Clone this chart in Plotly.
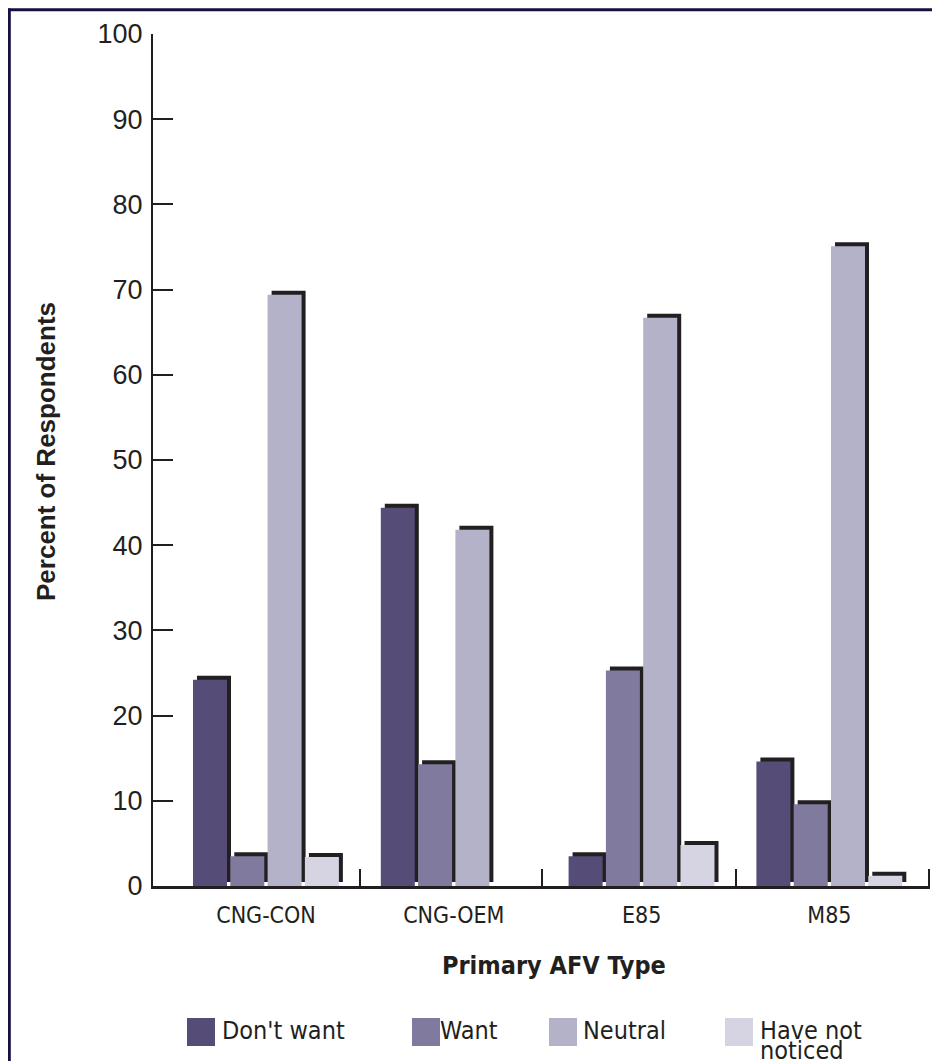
import plotly.graph_objects as go

# ---------------- data ----------------
categories = ["CNG-CON", "CNG-OEM", "E85", "M85"]
series_names = ["Don't want", "Want", "Neutral", "Have not noticed"]
dont_want = [24.2, 44.4, 3.5, 14.6]
want = [3.5, 14.3, 25.3, 9.6]
neutral = [69.4, 41.8, 66.7, 75.1]
have_not_noticed = [3.4, 0.0, 4.8, 1.2]
y_ticks = [0, 10, 20, 30, 40, 50, 60, 70, 80, 90, 100]

series_values = [dont_want, want, neutral, have_not_noticed]
colors = ["#554c77", "#807a9e", "#b3b2c9", "#d6d4e3"]
shadow_color = "#231f20"
legend_first_lines = ["Don't want", "Want", "Neutral", "Have not"]

# ---------------- geometry ----------------
OFF = 8                        # page body margin of the html page
W, H = 940 - OFF, 1061 - OFF
L, R, T, B = 153 - OFF, 10, 34 - OFF, 175
plot_w = W - L - R
plot_h = H - T - B
cat_px = 187.8                 # pixels per category
x_min = -113.0 / cat_px
x_max = x_min + plot_w / cat_px
y_px = plot_h / 100.0

bar_w = 34.0 / cat_px
pitch = 37.3 / cat_px
first_left = -73.0 / cat_px
shadow_dx = 4.0 / cat_px
shadow_dy = 4.0 / y_px

x_pos = list(range(len(categories)))


def px2x(px):      # screen px (reference coords) -> paper x
    return (px - OFF - L) / plot_w


def py2y(py):      # screen px (reference coords) -> paper y
    return (H - B - (py - OFF)) / plot_h


NARROW = "Liberation Sans Narrow, DejaVu Sans Condensed, Arial Narrow, sans-serif"
REG = "Liberation Sans, Arial, Helvetica, sans-serif"
TXT = "#231f20"

fig = go.Figure()

# shadows first
for i, vals in enumerate(series_values):
    fig.add_trace(go.Bar(
        x=x_pos, y=vals, base=shadow_dy, width=bar_w,
        offset=first_left + i * pitch + shadow_dx,
        marker=dict(color=shadow_color, line=dict(width=0)),
        showlegend=False, hoverinfo="skip"))

for i, vals in enumerate(series_values):
    fig.add_trace(go.Bar(
        x=x_pos, y=vals, width=bar_w, name=series_names[i],
        offset=first_left + i * pitch,
        marker=dict(color=colors[i], line=dict(width=0)),
        showlegend=False))

shapes = []
annotations = []

# outer frame (top and left edges visible)
frame = dict(color="#1a1040", width=3)
shapes.append(dict(type="line", xref="paper", yref="paper",
                   x0=px2x(8), x1=px2x(990), y0=py2y(9.8), y1=py2y(9.8),
                   line=frame, layer="above"))
shapes.append(dict(type="line", xref="paper", yref="paper",
                   x0=px2x(9.3), x1=px2x(9.3), y0=py2y(8.5), y1=py2y(1100),
                   line=frame, layer="above"))

# manual legend
sq_left = [187, 412, 549, 725]
txt_left = [220, 438, 581, 758]
sq_top, sq_size = 1018, 28
for i in range(4):
    shapes.append(dict(type="rect", xref="paper", yref="paper",
                       x0=px2x(sq_left[i]), x1=px2x(sq_left[i] + sq_size),
                       y0=py2y(sq_top), y1=py2y(sq_top + sq_size),
                       fillcolor=colors[i], line=dict(width=0)))
    annotations.append(dict(text=legend_first_lines[i], xref="paper", yref="paper",
                            x=px2x(txt_left[i]), y=py2y(1030),
                            xanchor="left", yanchor="middle", align="left",
                            showarrow=False,
                            font=dict(family=NARROW, size=25, color=TXT)))
annotations.append(dict(text="noticed", xref="paper", yref="paper",
                        x=px2x(txt_left[3]), y=py2y(1050),
                        xanchor="left", yanchor="middle", align="left",
                        showarrow=False,
                        font=dict(family=NARROW, size=25, color=TXT)))

# axis titles
annotations.append(dict(text="<b>Primary AFV Type</b>", xref="paper", yref="paper",
                        x=px2x(554), y=py2y(965), xanchor="center", yanchor="middle",
                        showarrow=False,
                        font=dict(family=NARROW, size=25, color=TXT)))
annotations.append(dict(text="<b>Percent of Respondents</b>", xref="paper", yref="paper",
                        x=px2x(46), y=py2y(452), xanchor="center", yanchor="middle",
                        textangle=-90, showarrow=False,
                        font=dict(family=REG, size=26, color=TXT)))

fig.update_layout(
    width=W, height=H,
    margin=dict(l=L, r=R, t=T, b=B, autoexpand=False),
    paper_bgcolor="white", plot_bgcolor="white",
    barmode="overlay",
    shapes=shapes, annotations=annotations,
    showlegend=False,
    xaxis=dict(range=[x_min, x_max], tickmode="array", tickvals=x_pos,
               ticktext=categories, ticks="", showgrid=False, zeroline=False,
               showline=True, linecolor=TXT, linewidth=2.5,
               tickfont=dict(family=NARROW, size=23, color=TXT),
               ticklabelstandoff=7,
               minor=dict(tickmode="array", tickvals=[0.5, 1.47, 2.5, 3.53],
                          ticks="inside", ticklen=17, tickwidth=2,
                          tickcolor=TXT, showgrid=False)),
    yaxis=dict(range=[0, 100], tickmode="array", tickvals=y_ticks,
               ticks="inside", ticklen=20, tickwidth=2, tickcolor=TXT,
               showgrid=False, zeroline=False,
               showline=True, linecolor=TXT, linewidth=2,
               tickfont=dict(family=REG, size=27, color=TXT),
               ticklabelstandoff=3),
)

fig.write_html("out.html")
